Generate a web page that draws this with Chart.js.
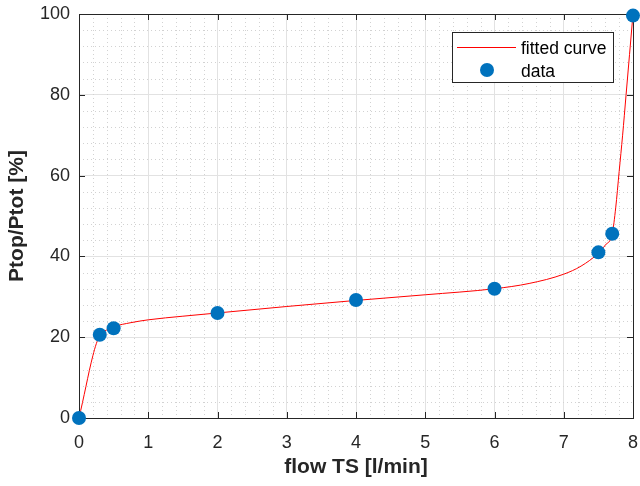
<!DOCTYPE html>
<html>
<head>
<meta charset="utf-8">
<script src="https://cdn.jsdelivr.net/npm/chart.js@4.4.1/dist/chart.umd.min.js"></script>
<style>
  html, body { margin: 0; padding: 0; background: #fff; }
  #wrap { width: 640px; height: 486px; }
</style>
</head>
<body>
<div id="wrap"><canvas id="fit-chart" width="640" height="486"></canvas></div>
<script>
// measured points
const flowData = [0, 0.3, 0.5, 2, 4, 6, 7.5, 7.7, 8];
const ratioData = [0, 20.6, 22.2, 26, 29.2, 32, 41, 45.6, 99.6];

// fitted curve
const fitX = [0, 0.05, 0.1, 0.15, 0.2, 0.25, 0.3, 0.4, 0.5, 0.75, 1, 1.5, 2, 3, 4, 5, 6, 6.5, 7, 7.25, 7.5, 7.6, 7.7, 7.75, 7.8, 7.85, 7.9, 7.95, 8];
const fitY = [0, 3.8, 7.8, 11.8, 15.4, 18.4, 20.4, 21.8, 22.6, 23.6, 24.3, 25.2, 26, 27.6, 29.1, 30.5, 32, 33.3, 35.6, 37.6, 40.8, 42.8, 45.6, 52, 61, 70, 80, 90, 100];

const xTicks = [0, 1, 2, 3, 4, 5, 6, 7, 8];
const yTicks = [0, 20, 40, 60, 80, 100];

const axisColor = '#262626';
const fontFamily = '"Liberation Sans", Arial, Helvetica, sans-serif';

const toPoints = (xs, ys) => xs.map((x, i) => ({ x: x, y: ys[i] }));

// no extra room for overhanging tick labels
const noOverhang = s => {
  s.paddingLeft = 0; s.paddingRight = 0; s.paddingTop = 0; s.paddingBottom = 0;
};

// minor dotted grid + MATLAB style box with inward ticks
const boxPlugin = {
  id: 'boxPlugin',
  beforeDatasetsDraw(chart) {
    const { ctx, chartArea: a, scales: { x, y } } = chart;
    ctx.save();
    ctx.strokeStyle = '#d2d2d2';
    ctx.lineWidth = 1;
    ctx.setLineDash([1, 3]);
    for (let v = 0.2; v < 8; v += 0.2) {
      if (Math.abs(v - Math.round(v)) < 1e-6) continue;
      const px = Math.round(x.getPixelForValue(v)) + 0.5;
      ctx.beginPath(); ctx.moveTo(px, a.top); ctx.lineTo(px, a.bottom); ctx.stroke();
    }
    for (let v = 4; v < 100; v += 4) {
      if (v % 20 === 0) continue;
      const py = Math.round(y.getPixelForValue(v)) + 0.5;
      ctx.beginPath(); ctx.moveTo(a.left, py); ctx.lineTo(a.right, py); ctx.stroke();
    }
    ctx.setLineDash([]);
    ctx.strokeStyle = axisColor;
    ctx.strokeRect(Math.round(a.left) + 0.5, Math.round(a.top) + 0.5,
      Math.round(a.right - a.left), Math.round(a.bottom - a.top));
    const len = 6;
    ctx.beginPath();
    xTicks.forEach(v => {
      const px = Math.round(x.getPixelForValue(v)) + 0.5;
      ctx.moveTo(px, a.bottom); ctx.lineTo(px, a.bottom - len);
      ctx.moveTo(px, a.top); ctx.lineTo(px, a.top + len);
    });
    yTicks.forEach(v => {
      const py = Math.round(y.getPixelForValue(v)) + 0.5;
      ctx.moveTo(a.left, py); ctx.lineTo(a.left + len, py);
      ctx.moveTo(a.right, py); ctx.lineTo(a.right - len, py);
    });
    ctx.stroke();
    ctx.restore();
  },
  afterDraw(chart) {
    const { ctx } = chart;
    const ds = chart.data.datasets;
    ctx.save();
    ctx.fillStyle = '#fff';
    ctx.fillRect(452, 32, 162, 51);
    ctx.strokeStyle = axisColor;
    ctx.lineWidth = 1;
    ctx.strokeRect(452.5, 32.5, 161, 50);
    ctx.strokeStyle = ds[0].borderColor;
    ctx.beginPath(); ctx.moveTo(457, 47.5); ctx.lineTo(516, 47.5); ctx.stroke();
    ctx.fillStyle = ds[1].backgroundColor;
    ctx.beginPath(); ctx.arc(487, 70, 7, 0, Math.PI * 2); ctx.fill();
    ctx.fillStyle = '#000';
    ctx.font = '17.5px ' + fontFamily;
    ctx.textBaseline = 'middle';
    ctx.fillText(ds[0].label, 521, 49);
    ctx.fillText(ds[1].label, 521, 72);
    ctx.restore();
  }
};

new Chart(document.getElementById('fit-chart'), {
  type: 'scatter',
  data: {
    datasets: [
      {
        label: 'fitted curve',
        data: toPoints(fitX, fitY),
        showLine: true,
        borderColor: '#ff0000',
        borderWidth: 1,
        pointRadius: 0,
        cubicInterpolationMode: 'monotone',
        clip: false,
        order: 2
      },
      {
        label: 'data',
        data: toPoints(flowData, ratioData),
        backgroundColor: '#0072bd',
        borderWidth: 0,
        pointRadius: 7,
        clip: false,
        order: 1
      }
    ]
  },
  options: {
    responsive: false,
    animation: false,
    layout: { padding: { top: 14, right: 7, left: 0, bottom: 0 } },
    plugins: { legend: { display: false }, tooltip: { enabled: false } },
    scales: {
      x: {
        type: 'linear', min: 0, max: 8,
        afterFit: s => { s.height = 68; noOverhang(s); },
        afterBuildTicks: s => { s.ticks = xTicks.map(v => ({ value: v })); },
        grid: { color: '#e2e2e2', lineWidth: 1, drawTicks: false },
        border: { display: false },
        ticks: { color: axisColor, padding: 14, maxRotation: 0, font: { family: fontFamily, size: 18 } },
        title: { display: true, text: 'flow TS [l/min]', color: axisColor, padding: { top: 0, bottom: 6 },
          font: { family: fontFamily, size: 21, weight: 'bold' } }
      },
      y: {
        type: 'linear', min: 0, max: 100,
        afterFit: s => { s.width = 79; noOverhang(s); },
        afterBuildTicks: s => { s.ticks = yTicks.map(v => ({ value: v })); },
        grid: { color: '#e2e2e2', lineWidth: 1, drawTicks: false },
        border: { display: false },
        ticks: { color: axisColor, padding: 9, font: { family: fontFamily, size: 18 } },
        title: { display: true, text: 'Ptop/Ptot [%]', color: axisColor, padding: { top: 5, bottom: 0 },
          font: { family: fontFamily, size: 21, weight: 'bold' } }
      }
    }
  },
  plugins: [boxPlugin]
});
</script>
</body>
</html>
